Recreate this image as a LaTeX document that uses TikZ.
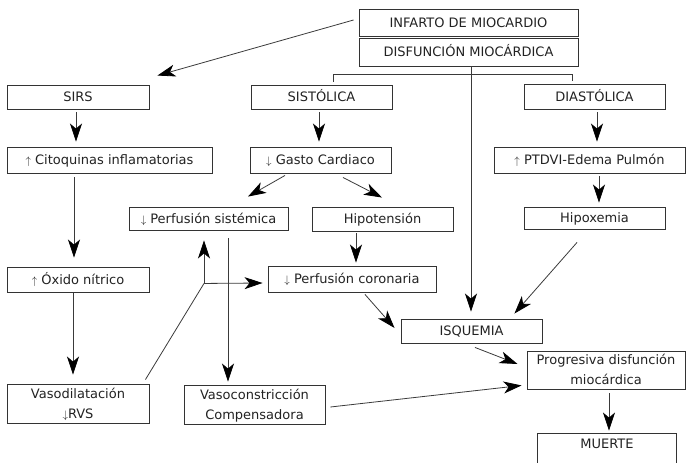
\documentclass[tikz,border=0pt]{standalone}
\usepackage{fontspec}
\setmainfont{DejaVu Sans}
\usetikzlibrary{calc,arrows.meta}
\definecolor{boxc}{HTML}{333333}
\definecolor{linec}{HTML}{3A3A3A}
\definecolor{txtc}{HTML}{222222}
\newcommand\upar{{\fontsize{11}{11}\selectfont$\uparrow$}}
\newcommand\dnar{{\fontsize{11}{11}\selectfont$\downarrow$}}
\begin{document}
\begin{tikzpicture}[x=1pt,y=-1pt,
  box/.style={draw=boxc, line width=0.9pt, inner sep=0pt, text=txtc,
    font=\fontsize{13}{20}\selectfont, align=center, text height=9.5pt, text depth=0pt},
  two/.style={text height=29.5pt, text depth=0pt},
  ln/.style={draw=linec, line width=0.8pt},
  arr/.style={ln, -{Stealth[length=18pt,width=12pt,inset=5pt,color=black]}}]
\useasboundingbox (0,0) rectangle (686,463);
\clip (0,0) rectangle (686,463);

% nodes
\node[box, minimum width=219, minimum height=27] (inf) at (468.5,22.5) {INFARTO DE MIOCARDIO};
\node[box, minimum width=219, minimum height=28] (dis) at (468.5,52) {DISFUNCIÓN MIOCÁRDICA};
\node[box, minimum width=142, minimum height=24] (sirs) at (78,97) {SIRS};
\node[box, minimum width=141, minimum height=24] (sis) at (321.5,97) {SISTÓLICA};
\node[box, minimum width=141, minimum height=25] (dia) at (594.5,96.5) {DIASTÓLICA};
\node[box, minimum width=205, minimum height=26] (cito) at (109.5,160) {\upar\ Citoquinas inflamatorias};
\node[box, minimum width=141, minimum height=26] (gasto) at (320.5,160) {\dnar\ Gasto Cardiaco};
\node[box, minimum width=191, minimum height=26] (ptdvi) at (589.5,160) {\upar\ PTDVI-Edema Pulmón};
\node[box, minimum width=159, minimum height=23] (psis) at (208.5,218.5) {\dnar\ Perfusión sistémica};
\node[box, minimum width=141, minimum height=24] (hipot) at (382.5,219) {Hipotensión};
\node[box, minimum width=141, minimum height=22] (hipox) at (594.5,218) {Hipoxemia};
\node[box, minimum width=142, minimum height=25] (oxido) at (78,279.5) {\upar\ Óxido nítrico};
\node[box, minimum width=168, minimum height=26] (pcor) at (352,279) {\dnar\ Perfusión coronaria};
\node[box, minimum width=141, minimum height=24] (isq) at (471.5,331) {ISQUEMIA};
\node[box, two, minimum width=158, minimum height=38] (prog) at (606,370) {Progresiva disfunción\\miocárdica};
\node[box, two, minimum width=142, minimum height=39] (vasod) at (78,403.5) {Vasodilatación\\\dnar RVS};
\node[box, two, minimum width=141, minimum height=39] (vasoc) at (254.5,404.5) {Vasoconstricción\\Compensadora};
\node[box, draw=none, minimum width=138, minimum height=20] (mue) at (607,444) {MUERTE};
\draw[draw=boxc, line width=0.9pt] ($(mue.north west)+(0,40)$) -- (mue.north west) -- (mue.north east) -- ($(mue.north east)+(0,40)$);

% connectors
\draw[arr] ($(inf.west)+(-5,-2.5)$) -- ($(sirs.north east)+(8,-9)$);
\draw[ln] ($(sis.north)+(11.5,-3)$) |- ($(dis.south)+(0,8)$) -| ($(dia.north)+(-22.5,-3)$);
\draw[arr] ($(dis.south)+(2.5,0)$) -- ($(isq.north)+(-0.5,-7)$);
\draw[arr] ($(sirs.south)+(-2,3)$) -- ($(cito.north)+(-33.5,-5)$);
\draw[arr] ($(sis.south)+(-2.5,3)$) -- ($(gasto.north)+(-1.5,-5)$);
\draw[arr] ($(dia.south)+(2.5,3)$) -- ($(ptdvi.north)+(7.5,-5)$);
\draw[arr] ($(cito.south)+(-35.5,4)$) -- ($(oxido.north)+(-4,-9)$);
\draw[arr] ($(gasto.south)+(-35.5,2)$) -- ($(psis.north)+(39.5,-10)$);
\draw[arr] ($(gasto.south)+(22.5,4)$) -- ($(hipot.north)+(-0.5,-9)$);
\draw[arr] ($(ptdvi.south)+(9.5,3)$) -- ($(hipox.north)+(4.5,-4)$);
\draw[arr] ($(hipot.south)+(-26.5,2)$) -- ($(pcor.north)+(4,-3)$);
\draw[arr] ($(oxido.south)+(-5,1)$) -- ($(vasod.north)+(-5,-9)$);
\coordinate (jn) at ($(psis.south)+(-4.5,53)$);
\draw[ln] ($(vasod.north east)+(-4,-4)$) -- (jn);
\draw[arr] (jn) -- ($(psis.south)+(-4.5,10)$);
\draw[arr] (jn) -- ($(pcor.west)+(-5,4)$);
\draw[arr] ($(psis.south)+(19.5,8)$) -- ($(vasoc.north)+(-26.5,-3)$);
\draw[arr] ($(pcor.south)+(13,2)$) -- ($(isq.west)+(-6,-3)$);
\draw[arr] ($(hipox.south)+(-17.5,13)$) -- ($(isq.north east)+(-28,-5)$);
\draw[arr] ($(isq.south)+(3.5,4)$) -- ($(prog.west)+(-9,-6)$);
\draw[arr] ($(vasoc.east)+(5,2.5)$) -- ($(prog.south west)+(-5,-4)$);
\draw[arr] ($(prog.south)+(3,4)$) -- ($(mue.north)+(2,-3)$);
\end{tikzpicture}
\end{document}
